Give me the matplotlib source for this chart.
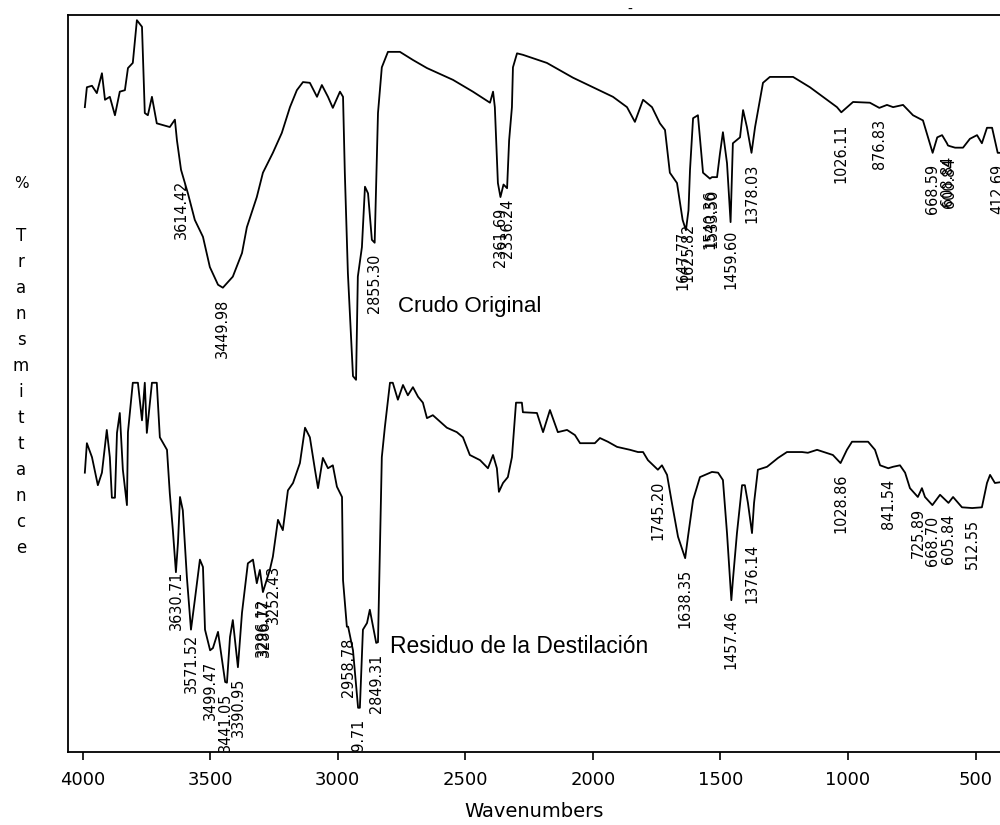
import numpy as np
import matplotlib
matplotlib.use("Agg")
import matplotlib.pyplot as plt

# Crudo Original (upper spectrum): wavenumber, %T (arbitrary offset)
crudo_wn = [3991, 3983, 3963, 3944, 3924, 3912, 3893, 3873, 3854, 3834, 3822, 3803, 3787, 3767,
            3756, 3744, 3728, 3709, 3658, 3638, 3630, 3614, 3587, 3560, 3528, 3501, 3469, 3450,
            3411, 3375, 3356, 3317, 3293, 3254, 3219, 3187, 3160, 3136, 3109, 3081, 3062, 3038,
            3019, 2991, 2979, 2972, 2960, 2940, 2928, 2921, 2905, 2893, 2881, 2866, 2855, 2842,
            2827, 2803, 2756, 2705, 2650, 2548, 2470, 2403, 2391, 2384, 2372, 2362, 2350, 2336,
            2328, 2317, 2313, 2297, 2274, 2180, 2078, 2000, 1921, 1866, 1835, 1803, 1768, 1737,
            1717, 1698, 1670, 1648, 1635, 1625, 1619, 1607, 1588, 1568, 1541, 1533, 1513, 1502,
            1490, 1474, 1460, 1451, 1423, 1411, 1396, 1378, 1364, 1333, 1306, 1215, 1149, 1082,
            1043, 1026, 980, 914, 877, 847, 823, 784, 745, 706, 668, 650, 631, 612, 608, 600,
            580, 549, 522, 494, 475, 455, 435, 413, 404]
crudo_t = [87.5, 90.2, 90.4, 89.4, 92.1, 88.5, 88.9, 86.4, 89.6, 89.8, 92.8, 93.5, 99.3, 98.4,
           86.7, 86.4, 88.9, 85.3, 84.8, 85.8, 83.0, 79.0, 75.8, 72.2, 69.9, 65.8, 63.4, 63.0,
           64.5, 67.7, 71.2, 75.3, 78.6, 81.3, 84.0, 87.5, 89.8, 90.9, 90.8, 88.9, 90.5, 88.9,
           87.4, 89.6, 88.9, 78.6, 65.0, 51.0, 50.5, 64.5, 68.5, 76.7, 75.8, 69.5, 69.1, 86.7,
           92.9, 95.0, 95.0, 93.9, 92.8, 91.2, 89.6, 88.1, 89.6, 87.5, 77.2, 75.3, 77.0, 76.5,
           83.0, 87.5, 92.9, 94.8, 94.6, 93.5, 91.5, 90.2, 88.9, 87.5, 85.5, 88.5, 87.5, 85.3,
           84.4, 78.6, 77.2, 72.2, 70.8, 73.5, 79.0, 86.0, 86.4, 78.6, 77.8, 78.0, 78.0, 81.1,
           84.1, 79.9, 71.9, 82.6, 83.4, 87.1, 84.8, 81.3, 84.8, 90.8, 91.6, 91.6, 90.2, 88.5,
           87.5, 86.8, 88.2, 88.1, 87.4, 87.8, 87.5, 87.8, 86.4, 85.7, 81.3, 83.4, 83.7, 82.6,
           82.3, 82.2, 82.0, 82.0, 83.2, 83.7, 82.6, 84.7, 84.7, 81.3, 81.3]
crudo_peaks = [3614.42, 3449.98, 2855.30, 2361.69, 2336.24, 1647.77, 1625.82, 1540.36, 1533.50,
               1459.60, 1378.03, 1026.11, 876.83, 668.59, 608.84, 600.84, 412.69]

# Residuo de la Destilacion (lower spectrum)
resid_wn = [3991, 3983, 3963, 3940, 3924, 3905, 3893, 3885, 3873, 3865, 3854, 3842, 3826, 3822,
            3803, 3783, 3767, 3756, 3748, 3728, 3709, 3697, 3669, 3658, 3646, 3634, 3626, 3618,
            3607, 3591, 3575, 3560, 3540, 3528, 3520, 3500, 3489, 3469, 3441, 3434, 3422, 3411,
            3391, 3375, 3352, 3332, 3317, 3305, 3293, 3266, 3254, 3234, 3215, 3195, 3175, 3148,
            3128, 3109, 3089, 3077, 3058, 3038, 3019, 3003, 2983, 2979, 2964, 2959, 2940, 2920,
            2913, 2901, 2885, 2874, 2849, 2842, 2827, 2815, 2795, 2784, 2764, 2744, 2725, 2705,
            2685, 2666, 2650, 2627, 2572, 2533, 2509, 2482, 2442, 2411, 2391, 2376, 2368, 2352,
            2333, 2317, 2301, 2278, 2274, 2219, 2195, 2168, 2137, 2101, 2070, 2050, 1992, 1972,
            1941, 1905, 1854, 1823, 1803, 1784, 1745, 1729, 1709, 1690, 1666, 1638, 1627, 1607,
            1580, 1533, 1509, 1490, 1474, 1457, 1451, 1435, 1415, 1404, 1392, 1376, 1368, 1353,
            1317, 1274, 1239, 1180, 1157, 1121, 1059, 1029, 1004, 984, 921, 894, 874, 842, 823,
            796, 776, 757, 726, 710, 698, 669, 639, 606, 588, 553, 513, 475, 455, 443, 424, 404]
resid_t = [37.9, 41.9, 40.0, 36.2, 37.9, 43.7, 40.0, 34.5, 34.5, 43.3, 46.0, 38.3, 33.5, 43.4,
           50.1, 50.1, 45.0, 50.1, 43.3, 50.1, 50.1, 42.7, 41.0, 35.1, 30.1, 24.4, 28.4, 34.6,
           32.8, 23.7, 16.6, 20.6, 26.1, 25.1, 16.6, 13.8, 14.1, 16.3, 9.5, 9.4, 15.6, 17.9,
           11.5, 18.9, 25.6, 26.1, 22.9, 24.7, 21.7, 24.7, 26.5, 31.5, 30.1, 35.5, 36.5, 39.2,
           44.0, 42.7, 38.3, 35.8, 39.9, 38.5, 38.9, 36.0, 34.6, 23.3, 17.0, 17.0, 13.8, 6.0,
           6.0, 16.6, 17.5, 19.3, 14.8, 14.9, 40.0, 44.1, 50.1, 50.1, 47.8, 49.8, 48.4, 49.5,
           48.2, 47.4, 45.3, 45.7, 44.0, 43.4, 42.7, 40.3, 39.6, 38.5, 40.3, 38.5, 35.3, 36.5,
           37.3, 40.0, 47.4, 47.4, 46.1, 46.0, 43.4, 46.4, 43.4, 43.7, 43.0, 41.9, 41.9, 42.6,
           42.1, 41.4, 41.0, 40.7, 40.7, 39.6, 38.3, 38.9, 37.6, 33.8, 29.2, 26.3, 29.2, 34.2,
           37.3, 38.0, 37.9, 36.9, 29.7, 20.6, 23.3, 29.7, 36.2, 36.2, 33.8, 29.7, 33.8, 38.3,
           38.7, 39.9, 40.7, 40.7, 40.6, 41.0, 40.3, 39.2, 41.0, 42.1, 42.1, 41.0, 38.9, 38.5, 38.7,
           38.9, 37.9, 35.8, 34.6, 35.8, 34.6, 33.5, 34.9, 33.8, 34.6, 33.2, 33.1, 33.2, 36.5,
           37.6, 36.5, 36.6]
resid_peaks = [3630.71, 3571.52, 3499.47, 3441.05, 3390.95, 3296.12, 3286.77, 3252.43, 2958.78,
               2919.71, 2849.31, 1745.20, 1638.35, 1457.46, 1376.14, 1028.86, 841.54, 725.89,
               668.70, 605.84, 512.55]

names = ["Crudo Original", "Residuo de la Destilación"]
xticks = [4000, 3500, 3000, 2500, 2000, 1500, 1000, 500]
ylabel_chars = list("Transmittance")

fig = plt.figure(figsize=(10, 8.25), dpi=100)
ax = fig.add_axes([0.068, 0.0885, 0.932, 0.8933])

for wn, t, peaks in [(crudo_wn, crudo_t, crudo_peaks), (resid_wn, resid_t, resid_peaks)]:
    wn = np.array(wn, dtype=float)
    t = np.array(t)
    ax.plot(wn, t, color="black", lw=1.3)
    for p in peaks:
        yp = np.interp(p, wn[::-1], t[::-1])
        ax.text(p, yp - 1.5, f"{p:.2f}", rotation=90, ha="center", va="top",
                fontsize=11.5, family="DejaVu Sans", stretch="condensed", clip_on=True)

ax.text(2764, 59.7, names[0], fontsize=16, family=["Liberation Sans", "DejaVu Sans"],
        va="baseline", ha="left")
ax.text(2795, 13.4, names[1], fontsize=16.5, family=["Liberation Sans", "DejaVu Sans"],
        va="baseline", ha="left")

ax.set_xlim(4057, 404)
ax.set_ylim(0, 100)
ax.set_xticks(xticks)
ax.set_xticklabels([str(v) for v in xticks], fontsize=13)
ax.set_yticks([])
ax.tick_params(axis="x", direction="out", length=6, width=1.2, pad=8)
ax.set_xlabel("Wavenumbers", fontsize=14, labelpad=9)
ax.spines["right"].set_visible(False)
for s in ["left", "top", "bottom"]:
    ax.spines[s].set_linewidth(1.3)

# stacked y label
fig.text(0.021, 1 - 183 / 825, "%", fontsize=11, ha="center", va="center")
for i, ch in enumerate(ylabel_chars):
    fig.text(0.021, 1 - (236 + i * 26) / 825, ch, fontsize=12, ha="center", va="center")

fig.text(0.63, 0.988, "-", fontsize=10, ha="center", va="center")

fig.savefig("out.png", dpi=100)
